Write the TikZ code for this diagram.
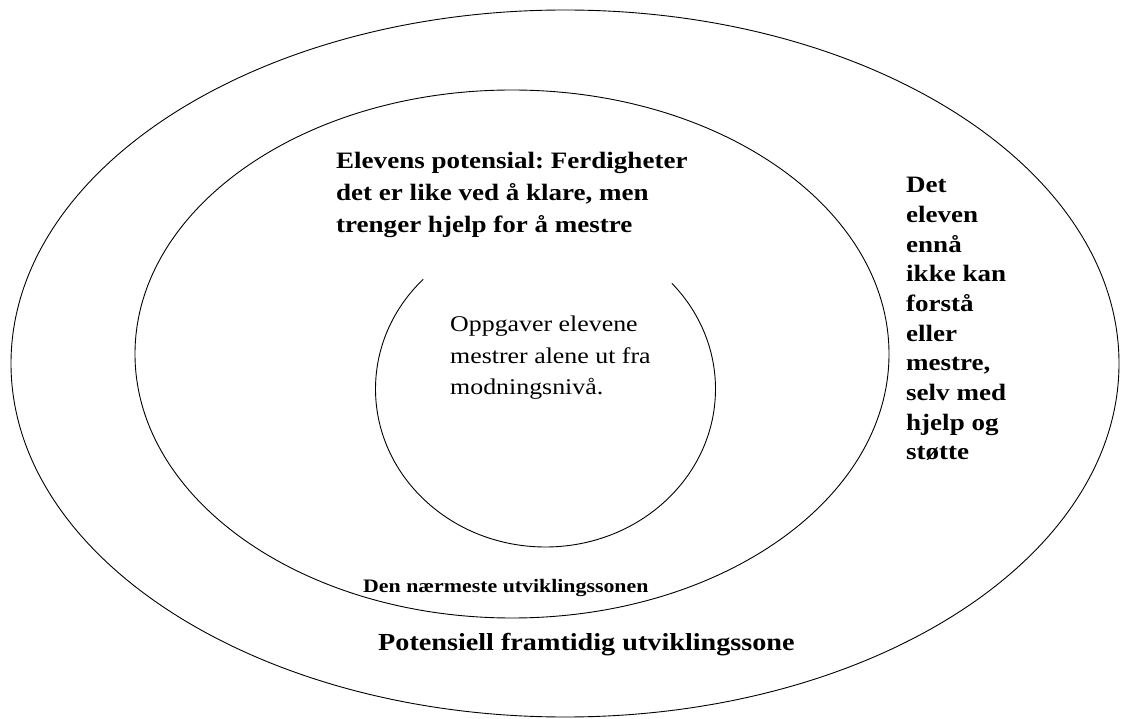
\documentclass[tikz,border=0pt]{standalone}
\usepackage{fontspec}
\setmainfont{Liberation Serif}[FakeStretch=1.15]
\usepackage{tikz}
\usetikzlibrary{positioning}
\frenchspacing
\tikzset{
  ring/.style ={draw,line width=0.9pt},
  txt/.style  ={inner sep=0pt,align=left,anchor=base west,font=\fontsize{22.5}{31.5}\selectfont},
  btxt/.style ={inner sep=0pt,align=left,anchor=base west,font=\fontsize{23.5}{32}\selectfont\bfseries},
  col/.style  ={btxt,font=\fontsize{23.5}{29.7}\selectfont\bfseries},
  small/.style={btxt,font=\fontsize{19}{23}\selectfont\bfseries},
  big/.style  ={btxt,font=\fontsize{24.5}{29}\selectfont\bfseries},
}

\begin{document}
\begin{tikzpicture}[x=1pt,y=1pt]
  \useasboundingbox (0,0) rectangle (1121,718);
  % centres of the three zones
  \coordinate (co) at (565,354.5);
  \coordinate (cm) at (512,364);
  \coordinate (ci) at (545.5,329);
  \draw[ring] (co) ellipse[x radius=554,y radius=353.5];
  \draw[ring] (cm) ellipse[x radius=377,y radius=264];
  \draw[ring] (ci) ++(136:170 and 158) arc[start angle=136,end angle=402,x radius=170,y radius=158];
  % labels (base = last line)
  \node[btxt] (pot) at (336,485){Elevens potensial: Ferdigheter\\det er like ved å klare, men\\trenger hjelp for å mestre};
  \node[txt] (own) at (450,323){Oppgaver elevene\\mestrer alene ut fra\\modningsnivå.};
  \node[col] (out) at (906,258){Det\\eleven\\ennå\\ikke kan\\forstå\\eller\\mestre,\\selv med\\hjelp og\\støtte};
  \node[small] (zpd) at (363,126){Den nærmeste utviklingssonen};
  \node[big] (fut) at (378,68){Potensiell framtidig utviklingssone};
\end{tikzpicture}
\end{document}
